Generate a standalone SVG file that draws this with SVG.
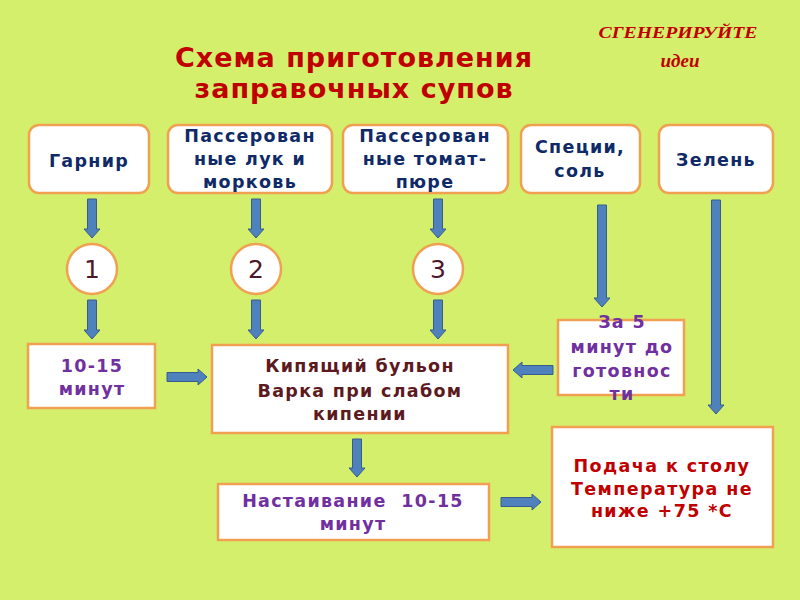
<svg xmlns="http://www.w3.org/2000/svg" width="800" height="600" viewBox="0 0 800 600">
<style>
.bg{fill:#d4ef6c}
.rbox{fill:#fff;stroke:#f0a050;stroke-width:2.5}
.sbox{fill:#fff;stroke:#f0a050;stroke-width:2.5}
.circ{fill:#fff;stroke:#f0a050;stroke-width:2.5}
.arr{fill:#4f81bd;stroke:#385d8a;stroke-width:1}
text{font-family:"DejaVu Sans","Noto Sans",sans-serif;font-weight:bold;text-anchor:middle}
.navy{fill:#0f2a66;font-size:17.5px;letter-spacing:1.3px}
.pur{fill:#7030a0;font-size:17.5px;letter-spacing:1.3px}
.brn{fill:#5c1a1e;font-size:17.5px;letter-spacing:1.3px}
.red{fill:#c00000;font-size:17.5px;letter-spacing:1.4px}
.num{fill:#4a1828;font-size:25px;font-weight:normal}
.title{fill:#c00000;font-size:27px;letter-spacing:1px}
.gen{font-family:"Liberation Serif","DejaVu Serif",serif;font-style:italic;fill:#c00000;font-size:17px}
</style>
<rect class="bg" x="0" y="0" width="800" height="600"/>
<g id="title">
<text class="title" x="354" y="67">Схема приготовления</text>
<text class="title" x="354" y="98">заправочных супов</text>
</g>
<g id="generate">
<text class="gen" x="678" y="38" textLength="159" lengthAdjust="spacingAndGlyphs">СГЕНЕРИРУЙТЕ</text>
<text class="gen" x="680" y="67" style="font-size:19px">идеи</text>
</g>
<g id="n-garnir"><rect class="rbox" x="29" y="125" width="120" height="68" rx="10"/><text class="navy" x="89" y="167">Гарнир</text></g>
<g id="n-luk"><rect class="rbox" x="168" y="125" width="164" height="68" rx="10"/><text class="navy" x="250"><tspan x="250" y="142">Пассерован</tspan><tspan x="250" y="165">ные лук и</tspan><tspan x="250" y="188">морковь</tspan></text></g>
<g id="n-tomat"><rect class="rbox" x="343" y="125" width="165" height="68" rx="10"/><text class="navy" x="425"><tspan x="425" y="142">Пассерован</tspan><tspan x="425" y="165">ные томат-</tspan><tspan x="425" y="188">пюре</tspan></text></g>
<g id="n-spec"><rect class="rbox" x="521" y="125" width="119" height="68" rx="10"/><text class="navy" x="580"><tspan x="580" y="153">Специи,</tspan><tspan x="580" y="177">соль</tspan></text></g>
<g id="n-zelen"><rect class="rbox" x="659" y="125" width="114" height="68" rx="10"/><text class="navy" x="716" y="166">Зелень</text></g>
<g id="c1"><circle class="circ" cx="92" cy="269" r="25"/><text class="num" x="92" y="278">1</text></g>
<g id="c2"><circle class="circ" cx="256" cy="269" r="25"/><text class="num" x="256" y="278">2</text></g>
<g id="c3"><circle class="circ" cx="438" cy="269" r="25"/><text class="num" x="438" y="278">3</text></g>
<g id="n-1015"><rect class="sbox" x="28" y="344" width="127" height="64"/><text class="pur" x="92"><tspan x="92" y="372">10-15</tspan><tspan x="92" y="395">минут</tspan></text></g>
<g id="n-bulon"><rect class="sbox" x="212" y="345" width="296" height="88"/><text class="brn" x="360"><tspan x="360" y="372">Кипящий бульон</tspan><tspan x="360" y="397">Варка при слабом</tspan><tspan x="360" y="420">кипении</tspan></text></g>
<g id="n-za5"><rect class="sbox" x="558" y="320" width="126" height="75"/><text class="pur" x="622"><tspan x="622" y="328">За 5</tspan><tspan x="622" y="353">минут до</tspan><tspan x="622" y="377">готовнос</tspan><tspan x="622" y="400">ти</tspan></text></g>
<g id="n-nast"><rect class="sbox" x="218" y="484" width="271" height="56"/><text class="pur" x="353"><tspan x="353" y="507" xml:space="preserve">Настаивание  10-15</tspan><tspan x="353" y="530">минут</tspan></text></g>
<g id="n-podacha"><rect class="sbox" x="552" y="427" width="221" height="120"/><text class="red" x="662"><tspan x="662" y="472">Подача к столу</tspan><tspan x="662" y="495">Температура не</tspan><tspan x="662" y="517">ниже +75 *С</tspan></text></g>
<g id="connectors">
<path class="arr" d="M87.5,199 h9 V229 h3.5 L92,238 L84,229 h3.5 Z"/>
<path class="arr" d="M87.5,300 h9 V330 h3.5 L92,339 L84,330 h3.5 Z"/>
<path class="arr" d="M251.5,199 h9 V229 h3.5 L256,238 L248,229 h3.5 Z"/>
<path class="arr" d="M251.5,300 h9 V330 h3.5 L256,339 L248,330 h3.5 Z"/>
<path class="arr" d="M433.5,199 h9 V229 h3.5 L438,238 L430,229 h3.5 Z"/>
<path class="arr" d="M433.5,300 h9 V330 h3.5 L438,339 L430,330 h3.5 Z"/>
<path class="arr" d="M597.5,205 h9 V298 h3.5 L602,307 L594,298 h3.5 Z"/>
<path class="arr" d="M711.5,200 h9 V405 h3.5 L716,414 L708,405 h3.5 Z"/>
<path class="arr" d="M352.5,439 h9 V468 h3.5 L357,477 L349,468 h3.5 Z"/>
<path class="arr" d="M167,372.5 h31 V369 L207,377 L198,385 V381.5 h-31 Z"/>
<path class="arr" d="M501,497.5 h31 V494 L541,502 L532,510 V506.5 h-31 Z"/>
<path class="arr" d="M553,365.5 h-31 V362 L513,370 L522,378 V374.5 h31 Z"/>
</g>
</svg>
